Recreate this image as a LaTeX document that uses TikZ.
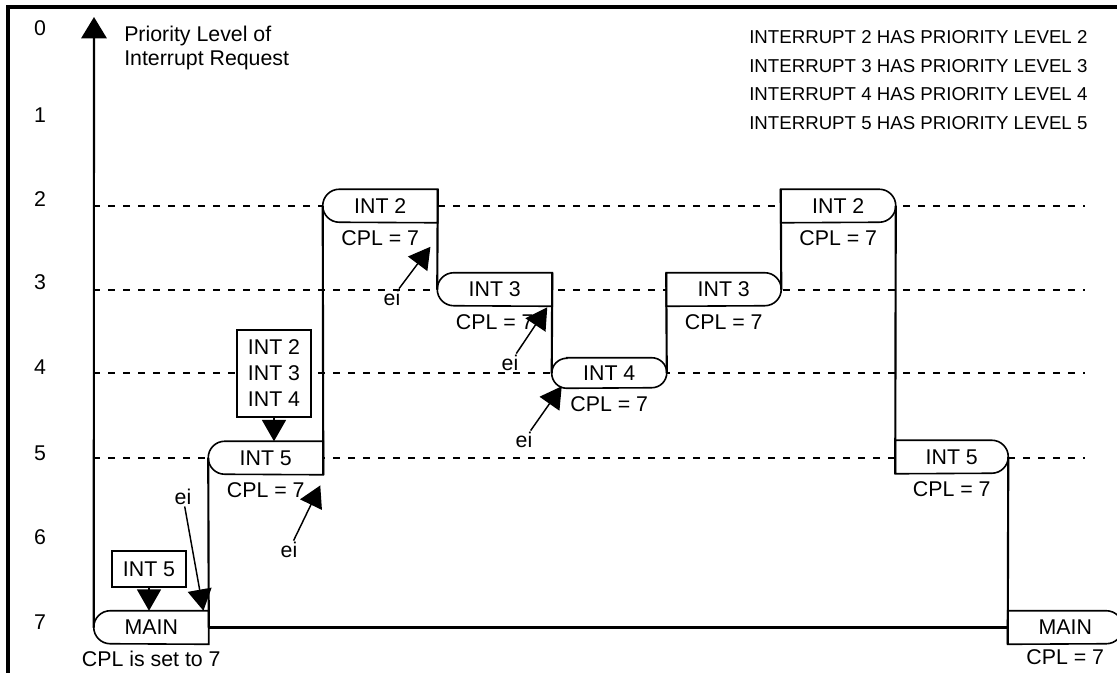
\documentclass[tikz,border=0pt]{standalone}
\usepackage{fontspec}
\setmainfont{Liberation Sans}
\usetikzlibrary{arrows.meta, positioning}

\begin{document}
\begin{tikzpicture}[
    x=0.75pt, y=-0.75pt,
    font={\fontsize{16}{18}\selectfont},
    level node/.style={rectangle, fill=white, inner sep=0pt, minimum width=85.875pt, minimum height=24.75pt},
    request node/.style={rectangle, draw, fill=white, line width=1.3pt, inner sep=0pt, minimum width=55.5pt, align=center},
    cpl node/.style={inner sep=2pt},
    ei node/.style={inner sep=1pt},
    outline/.style={line width=1.2pt},
    stair/.style={line width=1.6pt},
    level line/.style={line width=1.5pt, dash pattern=on 5pt off 6.25pt},
    arrow/.style={-{Triangle[width=18pt,length=16pt]}, line width=1.1pt}
]
\useasboundingbox (0,0) rectangle (1117,672);
\draw[line width=2.4pt] (8,700) -- (8,7) -- (1140,7);

\foreach \n/\y in {0/28,1/115,2/199,3/282,4/367,5/453,6/537,7/622}
    \node (lv\n) at (40,\y) {\n};
\foreach \y in {205.5,289.5,373,458}
    \draw[level line] (93,\y) -- (1085,\y);

\node[anchor=north west, inner sep=0pt, align=left] (ylabel) at (124,26) {Priority Level of\\Interrupt Request};
\node[anchor=north west, inner sep=0pt, align=left, font={\fontsize{14}{21.4}\selectfont}] (legend) at (749,30.5)
    {INTERRUPT 2 HAS PRIORITY LEVEL 2\\INTERRUPT 3 HAS PRIORITY LEVEL 3\\INTERRUPT 4 HAS PRIORITY LEVEL 4\\INTERRUPT 5 HAS PRIORITY LEVEL 5};

\node[level node] (main1) at (151.25,627.5) {MAIN};
\node[level node] (int5a) at (265.75,458) {INT 5};
\node[level node] (int2a) at (380.25,206) {INT 2};
\node[level node] (int3a) at (494.75,289.5) {INT 3};
\node[level node, minimum height=22.5pt] (int4) at (609.25,373) {INT 4};
\node[level node] (int3b) at (723.75,289.5) {INT 3};
\node[level node] (int2b) at (838.25,206) {INT 2};
\node[level node, minimum width=84.375pt] (int5b) at (951.75,457) {INT 5};
\node[level node] (main2) at (1065.25,627.5) {MAIN};

\foreach \b in {main1,int5a,int2a,int3a}
    \draw[outline] (\b.north east) -- ([xshift=12.375pt]\b.north west) arc[start angle=90, end angle=270, radius=12.375pt] -- (\b.south east) -- cycle;
\foreach \b in {int3b,int2b,int5b,main2}
    \draw[outline] (\b.north west) -- ([xshift=-12.375pt]\b.north east) arc[start angle=90, end angle=-90, radius=12.375pt] -- (\b.south west) -- cycle;
\draw[outline] ([xshift=11.25pt]int4.north west) -- ([xshift=-11.25pt]int4.north east) arc[start angle=90, end angle=-90, radius=11.25pt]
    -- ([xshift=11.25pt]int4.south west) arc[start angle=270, end angle=90, radius=11.25pt] -- cycle;

\coordinate (axis top) at (94,17);
\draw[-{Triangle[width=19pt,length=16pt]}, line width=1.6pt] (main1.west) -- (axis top);
\draw[stair] (main1.east) -- (int5a.west);
\draw[stair] (main1.east) -- (main2.west);
\draw[stair] (int5a.south east) -- (int2a.west);
\draw[stair] (int2a.north east) -- (int3a.west);
\draw[stair] (int3a.north east) -- (int4.west);
\draw[stair] (int4.east) -- (int3b.north west);
\draw[stair] (int3b.east) -- (int2b.north west);
\draw[stair] (int2b.east) -- (int5b.south west);
\draw[stair] (int5b.east) -- (main2.south west);

\foreach \b in {int5a,int2a,int3a,int4,int3b,int2b,int5b}
    \node[cpl node, below=4pt of \b] (cpl\b) {CPL = 7};
\node[cpl node, below=1.5pt of main2] (cplmain2) {CPL = 7};
\node[cpl node, below=3pt of main1] (cplmain1) {CPL is set to 7};

\node[request node, minimum height=27pt] (req5) at (149,569) {INT 5};
\node[request node, minimum height=65.25pt, font={\fontsize{16}{19.5}\selectfont}] (req234) at (274,373.5) {INT 2\\INT 3\\INT 4};
\draw[arrow] (req5) -- (req5 |- main1.north);
\draw[arrow] (req234) -- (req234 |- int5a.north);

\node[ei node] (ei1) at (183,497) {ei};
\node[ei node] (ei2) at (289,550) {ei};
\node[ei node] (ei3) at (392,298) {ei};
\node[ei node] (ei4) at (510,363) {ei};
\node[ei node] (ei5) at (524,440) {ei};
\draw[arrow] (ei1) -- ([xshift=-4pt]main1.north east);
\draw[arrow] (ei2) -- ([xshift=-2.25pt,yshift=-8pt]int5a.south east);
\draw[arrow] (ei3) -- ([xshift=-5.5pt,yshift=-18pt]int2a.south east);
\draw[arrow] (ei4) -- ([xshift=-3.75pt,yshift=-0.75pt]int3a.south east);
\draw[arrow] (ei5) -- ([xshift=7.5pt,yshift=1.5pt]int4.south west);

\end{tikzpicture}
\end{document}
